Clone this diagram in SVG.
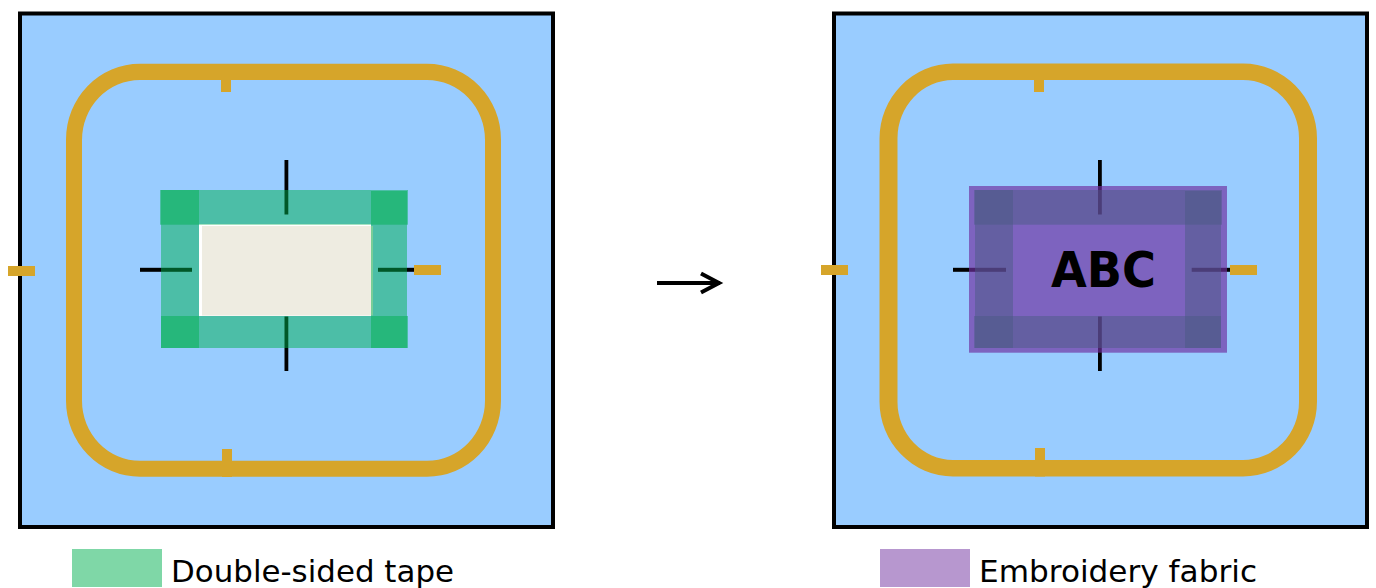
<svg xmlns="http://www.w3.org/2000/svg" width="1376" height="588" viewBox="0 0 1376 588">
<style>
.panel{fill:#99CCFF;stroke:#000;stroke-width:4}
.hoop{fill:#D6A52A;fill-rule:evenodd}
.tick{fill:#D6A52A}
.mark{fill:#000}
.tape{fill:#00B050;fill-opacity:.5}
.fabric{fill:#7030A0;fill-opacity:.67}
.legend{font-family:"DejaVu Sans",Verdana,sans-serif;font-size:31px;fill:#000}
.logo{font-family:"DejaVu Sans",Verdana,sans-serif;font-size:49px;font-weight:700;fill:#000}
.arrow{fill:none;stroke:#000;stroke-width:4}
</style>
<defs>
<marker id="open" markerUnits="userSpaceOnUse" markerWidth="30" markerHeight="30" refX="22" refY="15" orient="auto" viewBox="0 0 30 30">
<path d="M3 5.500L21 15L3 24.500" fill="none" stroke="#000" stroke-width="4"/>
</marker>
</defs>
<g id="panel-before">
<rect class="panel" x="20" y="13.500" width="533" height="513.500"/>
<path class="hoop" d="M140 63.700H427A74 76 0 0 1 501 139.700V400.700A74 76 0 0 1 427 476.700H140A74 76 0 0 1 66 400.700V139.700A74 76 0 0 1 140 63.700ZM140 80A58 60 0 0 0 82 140V400.700A58 60 0 0 0 140 460.700H427A58 60 0 0 0 485 400.700V140A58 60 0 0 0 427 80Z"/>
<rect class="tick" x="221" y="70" width="10" height="22"/>
<rect class="tick" x="222" y="449" width="10" height="28"/>
<rect class="tick" x="8" y="266" width="27" height="10"/>
<rect class="tick" x="414" y="265" width="27" height="10"/>
<rect class="mark" x="284.500" y="160" width="3.800" height="54.500"/>
<rect class="mark" x="284.500" y="316.500" width="3.800" height="54.500"/>
<rect class="mark" x="140" y="267.800" width="52" height="4"/>
<rect class="mark" x="378" y="267.800" width="36" height="4"/>
<rect x="199" y="224" width="172" height="92" fill="#FFFFFF"/>
<rect x="202" y="226" width="171" height="89.500" fill="#EEECE1"/>
<rect class="tape" x="160" y="190" width="248" height="34.700"/>
<rect class="tape" x="161" y="316" width="247" height="32"/>
<rect class="tape" x="161" y="190" width="38" height="158"/>
<rect class="tape" x="371" y="191" width="36" height="157"/>
</g>
<g id="panel-after">
<rect class="panel" x="834" y="13.500" width="533" height="513.500"/>
<path class="hoop" d="M953 63.500H1243A74 75 0 0 1 1317 138.500V401.500A74 75 0 0 1 1243 476.500H953A74 75 0 0 1 879.500 401.500V138.500A74 75 0 0 1 953 63.500ZM953 80A56 58 0 0 0 897.500 138V402A56 58 0 0 0 953 460H1243A56 58 0 0 0 1299 402V138A56 58 0 0 0 1243 80Z"/>
<rect class="tick" x="1034" y="70" width="10" height="22"/>
<rect class="tick" x="1035" y="448" width="10" height="28.500"/>
<rect class="tick" x="821" y="265" width="27" height="10"/>
<rect class="tick" x="1230" y="265" width="27" height="10"/>
<rect class="mark" x="1098" y="160" width="3.800" height="54.500"/>
<rect class="mark" x="1098" y="316.500" width="3.800" height="54.500"/>
<rect class="mark" x="953" y="267.800" width="53" height="4"/>
<rect class="mark" x="1191.700" y="267.800" width="38.300" height="4"/>
<rect class="tape" x="974" y="190" width="248" height="34.700"/>
<rect class="tape" x="974" y="316" width="247" height="32"/>
<rect class="tape" x="975" y="190" width="38" height="158"/>
<rect class="tape" x="1185" y="191" width="36" height="157"/>
<rect class="fabric" x="969" y="186" width="258" height="166.700"/>
<text class="logo" x="1051" y="287" textLength="105" lengthAdjust="spacingAndGlyphs">ABC</text>
</g>
<g id="connectors">
<path class="arrow" d="M657 283H720" marker-end="url(#open)"/>
</g>
<g id="legend-tape">
<rect x="72" y="549" width="90" height="38" fill="#00B050" fill-opacity=".5"/>
<text class="legend" x="171" y="582" textLength="283" lengthAdjust="spacingAndGlyphs">Double-sided tape</text>
</g>
<g id="legend-fabric">
<rect x="880" y="549" width="90" height="38" fill="#7030A0" fill-opacity=".5"/>
<text class="legend" x="979" y="582" textLength="278" lengthAdjust="spacingAndGlyphs">Embroidery fabric</text>
</g>
</svg>
